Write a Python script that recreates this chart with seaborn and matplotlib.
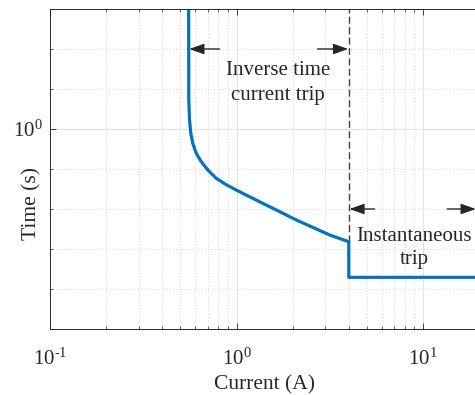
import numpy as np
import pandas as pd
import matplotlib
matplotlib.use("Agg")
import matplotlib.pyplot as plt
import seaborn as sns
from matplotlib.patches import FancyArrowPatch
from matplotlib.ticker import FixedLocator, NullFormatter, FixedFormatter

# ---- data ----
current = [0.553, 0.5548, 0.560, 0.5688, 0.583, 0.608, 0.647, 0.702, 0.778, 0.881,
           0.996, 1.223, 1.384, 1.599, 2.089, 3.153, 4.0, 4.0, 20.0]
trip_time = [10.0, 1.321, 1.090, 0.9596, 0.872, 0.792, 0.731, 0.675, 0.623, 0.586,
             0.557, 0.514, 0.490, 0.4637, 0.418, 0.362, 0.339, 0.241, 0.241]
x_major = [0.1, 1.0, 10.0]
x_labels = [r"$\mathdefault{10^{\text{-}1}}$", r"$\mathdefault{10^{0}}$", r"$\mathdefault{10^{1}}$"]
y_major = [1.0]
y_labels = [r"$\mathdefault{10^{0}}$"]
y_minor_exp = [-5, -4, -3, -2, -1, 1, 2, 3]   # sixths of a decade
inst_current = 4.0
text_inverse = "Inverse time\ncurrent trip"
text_inst = "Instantaneous\ntrip"

df = pd.DataFrame({"Current": current, "Time": trip_time})

sns.set_theme(style="white")
plt.rcParams["font.family"] = ["Liberation Serif", "DejaVu Serif"]
plt.rcParams["mathtext.fontset"] = "stix"

W, H = 475, 395
fig = plt.figure(figsize=(W / 100, H / 100), dpi=100)
dec_x = 186.5
xmin, xmax = 0.1, 20.0
ax_w = (np.log10(xmax) - np.log10(xmin)) * dec_x
ax = fig.add_axes([50 / W, (H - 329) / H, ax_w / W, 320 / H])

ax.set_xscale("log")
ax.set_yscale("log")
ax.set_xlim(xmin, xmax)
ax.set_ylim(10 ** (-5 / 6), 10 ** 0.5)

sns.lineplot(data=df, x="Current", y="Time", sort=False, estimator=None,
             color="#0072BD", lw=2.3, ax=ax)

# dashed boundary
ax.plot([inst_current, inst_current], [0.339, 10 ** 0.6], color="#404040",
        lw=1.0, dashes=(5, 2.5), zorder=1)

def arrow(x0, x1, y):
    a = FancyArrowPatch((x0, y), (x1, y), arrowstyle="-|>,head_length=0.9,head_width=0.32",
                        mutation_scale=10, color="#262626", lw=1.0, shrinkA=0, shrinkB=0,
                        zorder=4)
    ax.add_patch(a)

y_a = 10 ** (2 / 6)
arrow(0.811, 0.558, y_a)
arrow(2.72, 3.97, y_a)
y_b = 10 ** (-2 / 6)
arrow(5.5, 4.03, y_b)
arrow(13.5, 19.2, y_b)

ax.text(1.669, 1.555, text_inverse, ha="center", va="center", fontsize=15,
        color="#262626", linespacing=1.4)
ax.text(9.0, 0.319, text_inst, ha="center", va="center", fontsize=15,
        color="#262626", linespacing=1.3)

# ticks
ax.xaxis.set_major_locator(FixedLocator(x_major))
ax.xaxis.set_major_formatter(FixedFormatter(x_labels))
xminor = [m * 10.0 ** e for e in (-1, 0, 1) for m in range(2, 10)]
ax.xaxis.set_minor_locator(FixedLocator(xminor))
ax.xaxis.set_minor_formatter(NullFormatter())
ax.yaxis.set_major_locator(FixedLocator(y_major))
ax.yaxis.set_major_formatter(FixedFormatter(y_labels))
ax.yaxis.set_minor_locator(FixedLocator([10 ** (k / 6) for k in y_minor_exp]))
ax.yaxis.set_minor_formatter(NullFormatter())

ax.tick_params(which="both", direction="in", top=True, right=False, colors="#262626",
               labelsize=15, bottom=True, left=True)
ax.tick_params(which="major", length=4, width=0.6)
ax.tick_params(which="minor", length=2, width=0.5)
ax.tick_params(axis="x", which="major", pad=14)
ax.tick_params(axis="y", which="major", pad=5)

ax.grid(which="major", color="#e3e3e3", ls="-", lw=0.7)
ax.grid(which="minor", color="#d4d4d4", ls=(0, (1, 2)), lw=0.7)
ax.set_axisbelow(True)

for s in ["left", "bottom", "top"]:
    ax.spines[s].set_color("#262626")
    ax.spines[s].set_linewidth(0.7)
ax.spines["right"].set_visible(False)

ax.set_xlabel("Current (A)", fontsize=15.5, color="#262626")
ax.set_ylabel("Time (s)", fontsize=15.5, color="#262626")
ax.xaxis.set_label_coords((264 - 50) / ax_w, -(375 - 329) / 320)
ax.yaxis.set_label_coords(-(50 - 41) / ax_w, (329 - 203) / 320)

fig.savefig("out.png", dpi=100)
